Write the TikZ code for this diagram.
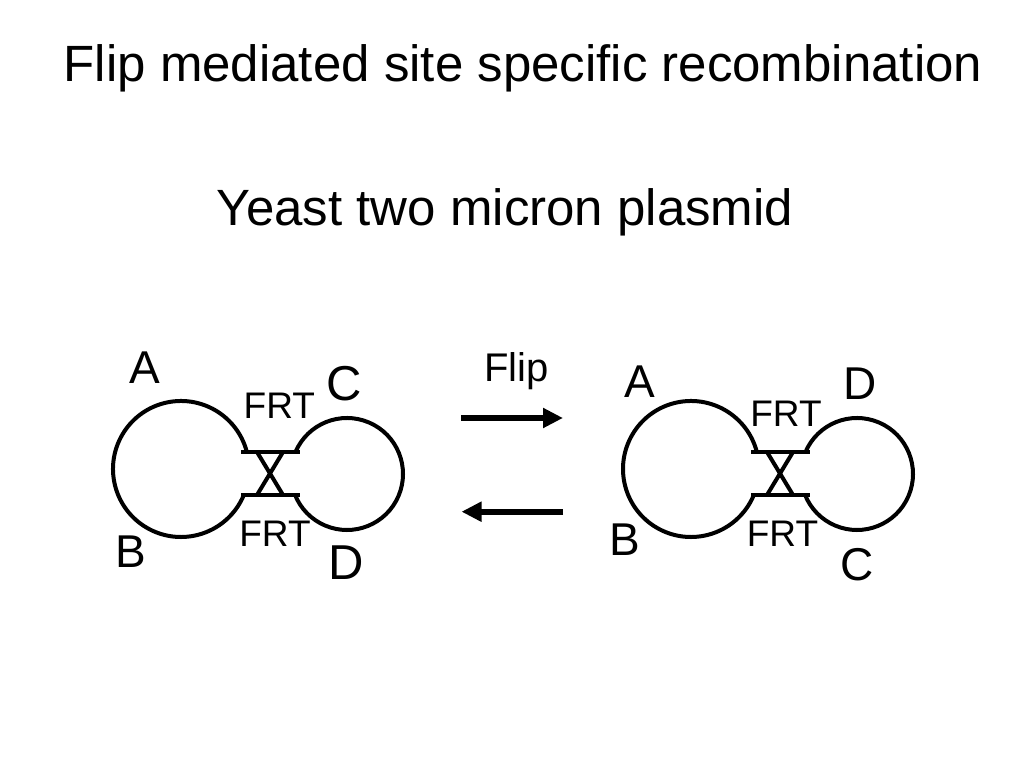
\documentclass[tikz,border=0pt]{standalone}
\usepackage{fontspec}
\setmainfont{Liberation Sans}
\usetikzlibrary{arrows.meta}
\begin{document}
\begin{tikzpicture}[x=1pt,y=1pt,line width=4pt,
  lbl/.style={inner sep=0pt,anchor=base},
  big/.style={lbl,font=\fontsize{46}{54}\selectfont},
  bigger/.style={lbl,font=\fontsize{49}{58}\selectfont},
  frt/.style={lbl,font=\fontsize{37}{44}\selectfont},
  flow/.style={line width=6pt,-{Triangle[length=20pt,width=19pt]}}]
\useasboundingbox (0,0) rectangle (1024,768);
\fill[white] (0,0) rectangle (1024,768);
% titles
\node[lbl,font=\fontsize{51}{60}\selectfont] (title) at (523,686.3) {Flip mediated site specific recombination};
\node[lbl,font=\fontsize{51}{60}\selectfont] (sub) at (505,542) {Yeast two micron plasmid};
% left plasmid
\begin{scope}
  \coordinate (Ltl) at (241,316); \coordinate (Ltr) at (300,316);
  \coordinate (Lbl) at (241,273); \coordinate (Lbr) at (300,273);
  \coordinate (Lxtl) at (257,316); \coordinate (Lxtr) at (283,316);
  \coordinate (Lxbl) at (257,273); \coordinate (Lxbr) at (283,273);
  \draw (246.83,316.03) arc[start angle=14.5,end angle=337.5,radius=68];
  \draw (295.48,315.97) arc[start angle=156.9,end angle=-158,radius=56];
  \draw (Ltl) -- (Ltr);
  \draw (Lbl) -- (Lbr);
  \draw (Lxtl) -- (Lxbr);
  \draw (Lxtr) -- (Lxbl);
  \node[big] (LA) at (145.3,384.7) {A};
  \node[bigger] (LC) at (344.5,367) {C};
  \node[bigger] (LD) at (346.3,188) {D};
  \node[big] (LB) at (131,200.7) {B};
  \node[frt] (LF1) at (279.3,349.7) {FRT};
  \node[frt] (LF2) at (275,221.3) {FRT};
\end{scope}
% right plasmid
\begin{scope}[xshift=510pt]
  \coordinate (Rtl) at (241,316); \coordinate (Rtr) at (300,316);
  \coordinate (Rbl) at (241,273); \coordinate (Rbr) at (300,273);
  \coordinate (Rxtl) at (257,316); \coordinate (Rxtr) at (283,316);
  \coordinate (Rxbl) at (257,273); \coordinate (Rxbr) at (283,273);
  \draw (246.83,316.03) arc[start angle=14.5,end angle=337.5,radius=68];
  \draw (295.48,315.97) arc[start angle=156.9,end angle=-158,radius=56];
  \draw (Rtl) -- (Rtr);
  \draw (Rbl) -- (Rbr);
  \draw (Rxtl) -- (Rxbr);
  \draw (Rxtr) -- (Rxbl);
\end{scope}
\node[big] (RA) at (640,370.7) {A};
\node[big] (RD) at (860,368.7) {D};
\node[big] (RB) at (625,212.3) {B};
\node[big] (RC) at (857.5,187.5) {C};
\node[frt] (RF1) at (786,341.3) {FRT};
\node[frt] (RF2) at (782.5,221.3) {FRT};
% arrows
\node[lbl,font=\fontsize{40}{48}\selectfont] (flip) at (516.5,386.3) {Flip};
\coordinate (a1s) at (461,350); \coordinate (a1e) at (563,350);
\coordinate (a2s) at (563,256.3); \coordinate (a2e) at (461.5,256.3);
\draw[flow] (a1s) -- (a1e);
\draw[flow] (a2s) -- (a2e);
\end{tikzpicture}
\end{document}
